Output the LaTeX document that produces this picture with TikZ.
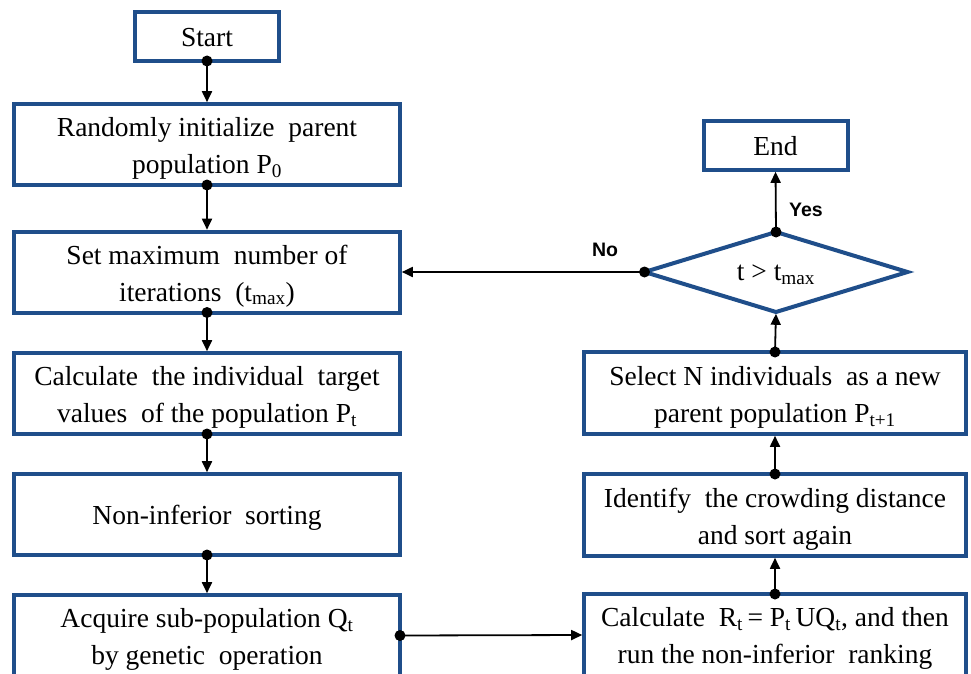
\documentclass[tikz,border=0pt]{standalone}
\usepackage{fontspec}
\setmainfont{Liberation Serif}
\newfontfamily\lsans{Liberation Sans}
\usetikzlibrary{shapes.geometric,arrows.meta}
\definecolor{boxblue}{HTML}{1F4E8A}
\begin{document}
\begin{tikzpicture}[x=1pt,y=-1pt,
  box/.style={draw=boxblue, line width=4pt, fill=white, inner sep=0pt, outer sep=0pt},
  txt/.style={align=center, inner sep=0pt, font=\fontsize{27.5}{37}\selectfont},
  lbox/.style={box, minimum width=386pt, minimum height=81pt},
  rbox/.style={box, minimum width=382pt, minimum height=82pt},
  sbox/.style={box, minimum width=144pt, minimum height=49pt},
  dec/.style={box, diamond, minimum width=263pt, minimum height=80pt},
  conn/.style={line width=1.8pt, shorten >=1.8pt, -{Triangle[length=11pt,width=10pt]}},
  lab/.style={font=\lsans\bfseries\fontsize{19.5}{22}\selectfont}]
\useasboundingbox (0,0) rectangle (971,674);
\clip (0,0) rectangle (971,674);
% left column
\node[sbox] (start) at (207,36.5) {};
\node[lbox] (b1) at (207,144.5) {};
\node[lbox] (b2) at (207,272) {};
\node[lbox] (b3) at (207,393.5) {};
\node[lbox] (b4) at (207,514.5) {};
\node[lbox] (b5) at (207,635.5) {};
% right column
\node[sbox] (end) at (775.5,145.5) {};
\node[dec] (d) at (776,272) {};
\node[rbox] (sel) at (775,393) {};
\node[rbox] (idn) at (775,515) {};
\node[rbox] (calc) at (775,635) {};
% texts
\node[txt] (startt) at ([yshift=-1.5pt]start.center) {Start};
\node[txt] (b1t) at ([yshift=-4pt]b1.center) {Randomly initialize\ \ parent\\population P\textsubscript{0}};
\node[txt] (b2t) at ([yshift=-4pt]b2.center) {Set maximum\ \ number of\\iterations\ \ (t\textsubscript{max})};
\node[txt] (b3t) at ([yshift=-4pt]b3.center) {Calculate\ \ the individual\ \ target\\values\ \ of the population P\textsubscript{t}};
\node[txt] (b4t) at ([yshift=-3pt]b4.center) {Non-inferior\ \ sorting};
\node[txt] (b5t) at ([yshift=-4pt]b5.center) {Acquire sub-population Q\textsubscript{t}\\by genetic\ \ operation};
\node[txt] (endt) at ([yshift=-1pt]end.center) {End};
\node[txt] (dt) at ([yshift=-3pt]d.center) {t > t\textsubscript{max}};
\node[txt] (selt) at ([yshift=-4.5pt]sel.center) {Select N individuals\ \ as a new\\parent population P\textsubscript{t+1}};
\node[txt] (idnt) at ([yshift=-4.5pt]idn.center) {Identify\ \ the crowding distance\\and sort again};
\node[txt] (calct) at ([yshift=-3.5pt]calc.center) {Calculate\ \ R\textsubscript{t}\,= P\textsubscript{t}\,UQ\textsubscript{t}, and then\\run the non-inferior\ \ ranking};
% connectors
\foreach \a/\b in {start.south/b1.north, b1.south/b2.north, b2.south/b3.north, b3.south/b4.north,
  b4.south/b5.north, b5.east/calc.west, calc.north/idn.south, idn.north/sel.south,
  sel.north/d.south, d.north/end.south, d.west/b2.east}
{
  \draw[conn] (\a) -- (\b);
  \fill (\a) circle (5.5pt);
}
\node[lab] (no) at (605,250) {No};
\node[lab] (yes) at (806,210) {Yes};
\end{tikzpicture}
\end{document}
